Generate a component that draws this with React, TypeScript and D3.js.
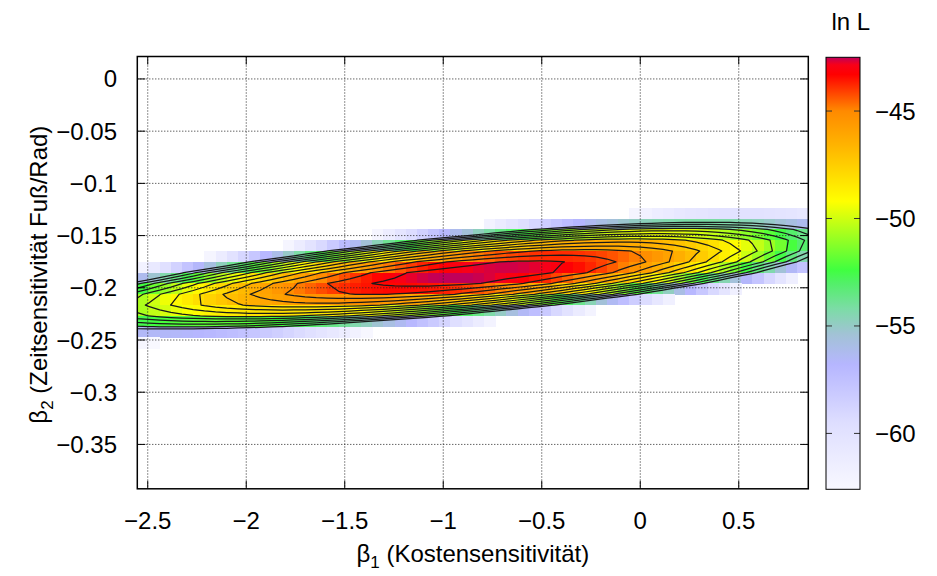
import React from "react";
import * as d3 from "d3";

// ---- axes / scales ----
const X_DOMAIN = [-2.553, 0.853];
const Y_DOMAIN = [-0.3925, 0.0215];
const X_TICKS = [-2.5, -2, -1.5, -1, -0.5, 0, 0.5];
const Y_TICKS = [0, -0.05, -0.1, -0.15, -0.2, -0.25, -0.3, -0.35];
const CB_DOMAIN = [-62.6, -42.5];
const CB_TICKS = [-45, -50, -55, -60];
const CONTOUR_LEVELS = [-55, -54, -53, -52, -51, -50, -49, -48, -47, -46, -45, -44, -43];

// ---- grid of the likelihood surface ----
const GRID_COLS = 60;
const GRID_ROWS = 40;

// ---- log-likelihood surface parameters ----
const PEAK_LNL = -42.15;
const PEAK_BETA = [-0.844, -0.1868];       // [beta1, beta2] of the maximum
const RIDGE_SLOPE = 0.0175;                // d beta2 / d beta1 along the ridge
const CURVATURE = [3.32, 0.3, 9000];       // along ridge (quadratic, cubic), across ridge

// ---- colour palette (value -> colour) ----
const PALETTE_VALUES = [-62.6, -59.5, -56.8, -55.4, -54.2, -53.0, -52.4, -49.2, -46.6, -45.0, -43.3, -42.85, -42.5];
const PALETTE_COLORS = ["#f8f8ff", "#dedeff", "#b6b6ff", "#a2c2d6", "#7cdca6", "#52f068", "#40ff40", "#ffff00", "#ffb400", "#ff8a00", "#ff0000", "#f80018", "#c0005a"];

const W = 937;
const H = 576;
const M = { left: 137.3, right: 808.3, top: 56.5, bottom: 488.8 };
const CB = { left: 826, right: 860, top: 57.3, bottom: 489.3 };
const FONT = "'Liberation Sans', Arial, Helvetica, sans-serif";

function lnL(b1: number, b2: number): number {
  const u = b1 - PEAK_BETA[0];
  const w = b2 - PEAK_BETA[1] - RIDGE_SLOPE * u;
  return PEAK_LNL - CURVATURE[0] * u * u - CURVATURE[1] * u * u * u - CURVATURE[2] * w * w;
}

const fmt = (v: number) => (v < 0 ? "\u2212" + String(Math.abs(v)) : String(v));

export default function App() {
  const x = d3.scaleLinear().domain(X_DOMAIN).range([M.left, M.right]);
  const y = d3.scaleLinear().domain(Y_DOMAIN).range([M.bottom, M.top]);
  const color = d3
    .scaleLinear<string>()
    .domain(PALETTE_VALUES)
    .range(PALETTE_COLORS)
    .interpolate(d3.interpolateRgb)
    .clamp(true);

  const nx = GRID_COLS + 1;
  const ny = GRID_ROWS + 1;
  const dx = (X_DOMAIN[1] - X_DOMAIN[0]) / GRID_COLS;
  const dy = (Y_DOMAIN[1] - Y_DOMAIN[0]) / GRID_ROWS;
  const gx = d3.range(nx).map((i) => X_DOMAIN[0] + i * dx);
  const gy = d3.range(ny).map((j) => Y_DOMAIN[1] - j * dy); // top to bottom
  const values: number[] = new Array(nx * ny);
  for (let j = 0; j < ny; j++) for (let i = 0; i < nx; i++) values[j * nx + i] = lnL(gx[i], gy[j]);

  const cells: { x0: number; x1: number; y0: number; y1: number; c: string }[] = [];
  for (let j = 0; j < GRID_ROWS; j++) {
    for (let i = 0; i < GRID_COLS; i++) {
      const v =
        (values[j * nx + i] + values[j * nx + i + 1] + values[(j + 1) * nx + i] + values[(j + 1) * nx + i + 1]) / 4;
      if (v < CB_DOMAIN[0]) continue;
      cells.push({ x0: x(gx[i]), x1: x(gx[i + 1]), y0: y(gy[j]), y1: y(gy[j + 1]), c: color(v) });
    }
  }

  const contours = d3.contours().size([nx, ny]).thresholds(CONTOUR_LEVELS)(values);
  const proj = d3.geoTransform({
    point(px: number, py: number) {
      // @ts-ignore
      this.stream.point(x(X_DOMAIN[0] + (px - 0.5) * dx), y(Y_DOMAIN[1] - (py - 0.5) * dy));
    },
  });
  const path = d3.geoPath(proj);

  const cbY = d3.scaleLinear().domain(CB_DOMAIN).range([CB.bottom, CB.top]);
  const gradStops = PALETTE_VALUES.map((v, k) => ({
    off: (CB_DOMAIN[1] - v) / (CB_DOMAIN[1] - CB_DOMAIN[0]),
    c: PALETTE_COLORS[k],
  }));

  const tick = 8;
  return (
    <svg
      width={W}
      height={H}
      style={{ position: "absolute", left: 0, top: 0, background: "#fff" }}
      fontFamily={FONT}
    >
      <defs>
        <clipPath id="plotClip">
          <rect x={M.left} y={M.top} width={M.right - M.left} height={M.bottom - M.top} />
        </clipPath>
        <linearGradient id="cbGrad" x1="0" y1="0" x2="0" y2="1">
          {gradStops
            .slice()
            .reverse()
            .map((s, k) => (
              <stop key={k} offset={s.off} stopColor={s.c} />
            ))}
        </linearGradient>
      </defs>
      <rect x={0} y={0} width={W} height={H} fill="#fff" />

      <g clipPath="url(#plotClip)">
        <g shapeRendering="crispEdges">
          {cells.map((c, k) => (
            <rect
              key={k}
              x={c.x0}
              y={c.y0}
              width={c.x1 - c.x0 + 0.4}
              height={c.y1 - c.y0 + 0.4}
              fill={c.c}
            />
          ))}
        </g>
        {/* grid */}
        <g stroke="#222" strokeWidth={1} strokeDasharray="1,2">
          {X_TICKS.map((t) => (
            <line key={"gx" + t} x1={x(t)} x2={x(t)} y1={M.top} y2={M.bottom} />
          ))}
          {Y_TICKS.map((t) => (
            <line key={"gy" + t} x1={M.left} x2={M.right} y1={y(t)} y2={y(t)} />
          ))}
        </g>
        {/* contours */}
        <g fill="none" stroke="#1a1a1a" strokeWidth={1.25} strokeLinejoin="round">
          {contours.map((c, k) => (
            <path key={k} d={path(c as any) || ""} />
          ))}
        </g>
      </g>

      {/* ticks */}
      <g stroke="#000" strokeWidth={1}>
        {X_TICKS.map((t) => (
          <g key={"tx" + t}>
            <line x1={x(t)} x2={x(t)} y1={M.bottom} y2={M.bottom - tick} />
            <line x1={x(t)} x2={x(t)} y1={M.top} y2={M.top + tick} />
          </g>
        ))}
        {Y_TICKS.map((t) => (
          <g key={"ty" + t}>
            <line x1={M.left} x2={M.left + tick} y1={y(t)} y2={y(t)} />
            <line x1={M.right} x2={M.right - tick} y1={y(t)} y2={y(t)} />
          </g>
        ))}
      </g>
      <rect
        x={M.left}
        y={M.top}
        width={M.right - M.left}
        height={M.bottom - M.top}
        fill="none"
        stroke="#000"
        strokeWidth={1.5}
      />

      {/* tick labels */}
      <g fontSize={24} fill="#000">
        {X_TICKS.map((t) => (
          <text key={"lx" + t} x={x(t)} y={528.5} textAnchor="middle">
            {fmt(t)}
          </text>
        ))}
        {Y_TICKS.map((t) => (
          <text key={"ly" + t} x={117} y={y(t) + 8.5} textAnchor="end">
            {fmt(t)}
          </text>
        ))}
      </g>

      {/* axis labels */}
      <text x={(M.left + M.right) / 2} y={562} textAnchor="middle" fontSize={24}>
        β<tspan fontSize={17} dy={6}>1</tspan>
        <tspan dy={-6}> (Kostensensitivität)</tspan>
      </text>
      <text
        transform={`translate(47, ${(M.top + M.bottom) / 2 + 2}) rotate(-90)`}
        textAnchor="middle"
        fontSize={24}
      >
        β<tspan fontSize={17} dy={6}>2</tspan>
        <tspan dy={-6}> (Zeitsensitivität Fuß/Rad)</tspan>
      </text>

      {/* colour box */}
      <rect
        x={CB.left}
        y={CB.top}
        width={CB.right - CB.left}
        height={CB.bottom - CB.top}
        fill="url(#cbGrad)"
      />
      <g stroke="#333" strokeWidth={1}>
        {CB_TICKS.map((t) => (
          <g key={"cbt" + t}>
            <line x1={CB.left} x2={CB.left + 6} y1={cbY(t)} y2={cbY(t)} />
            <line x1={CB.right} x2={CB.right - 6} y1={cbY(t)} y2={cbY(t)} />
          </g>
        ))}
      </g>
      <rect
        x={CB.left}
        y={CB.top}
        width={CB.right - CB.left}
        height={CB.bottom - CB.top}
        fill="none"
        stroke="#000"
        strokeWidth={1}
      />
      <g fontSize={24}>
        {CB_TICKS.map((t) => (
          <text key={"cbl" + t} x={875} y={cbY(t) + 8.5}>
            {fmt(t)}
          </text>
        ))}
      </g>
      <text x={831.5} y={30} fontSize={24}>
        ln L
      </text>
    </svg>
  );
}
